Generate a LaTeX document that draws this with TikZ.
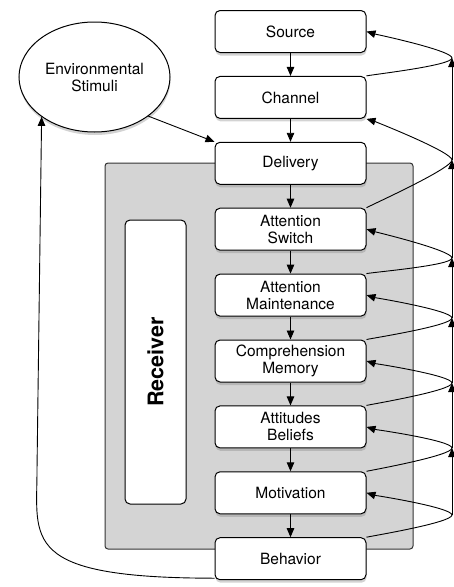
\documentclass[tikz,border=0pt]{standalone}
\usepackage{fontspec}
\setsansfont{TeX Gyre Heros}
\usepackage{tikz}
\usetikzlibrary{positioning,arrows.meta,shapes,shadows}
\definecolor{recvgray}{RGB}{212,212,212}
\tikzset{
stage/.style={draw, line width=1pt, fill=white, rounded corners=5pt, minimum width=151pt, minimum height=42pt, align=center, font=\sffamily\fontsize{15.5}{17}\selectfont, drop shadow={opacity=0.35, shadow xshift=0.5pt, shadow yshift=-3pt}},
flow/.style={-{Triangle[length=9pt,width=7.5pt]}, line width=0.9pt},
back/.style={flow, looseness=0.22}
}

\begin{document}
\begin{tikzpicture}[x=1pt, y=1pt, node distance=22.9pt]
  \useasboundingbox (0,0) rectangle (454,-587);
  \draw[line width=1pt, draw=black!80, fill=recvgray, rounded corners=3pt] (105,-163) rectangle (413,-549);
  \node[draw, line width=1pt, fill=white, rounded corners=5pt, rotate=90, minimum width=284pt, minimum height=61pt, font=\sffamily\bfseries\fontsize{21.5}{24}\selectfont] (recv) at (155.5,-362) {Receiver};

  \node[stage] (src) at (290.5,-31.5) {Source};
  \node[stage, below=of src] (chan) {Channel};
  \node[stage, below=of chan] (deliv) {Delivery};
  \node[stage, below=of deliv] (sw) {Attention\\Switch};
  \node[stage, below=of sw] (maint) {Attention\\Maintenance};
  \node[stage, below=of maint] (comp) {Comprehension\\Memory};
  \node[stage, below=of comp] (att) {Attitudes\\Beliefs};
  \node[stage, below=of att] (mot) {Motivation};
  \node[stage, below=of mot] (beh) {Behavior};

  \node[stage, ellipse, rounded corners=0pt, minimum width=151pt, minimum height=110pt] (env) at (94.5,-77) {Environmental\\Stimuli};

  \foreach \a/\b in {src/chan, chan/deliv, deliv/sw, sw/maint, maint/comp, comp/att, att/mot, mot/beh}
  \draw[flow] (\a) -- (\b);

  \foreach \n/\y in {1/58, 2/160, 3/258, 4/318, 5/383, 6/448, 7/515}
  \coordinate (t\n) at (452,-\y);

  \foreach \a/\b/\n/\o in {chan/src.east/1/12, sw/chan.south east/2/28, maint/sw.east/3/12, comp/maint.east/4/12, att/comp.east/5/12, mot/att.east/6/12, beh/mot.east/7/12}
  \draw[back] (\a.north east) to[out=\o, in=-90] (t\n) to[out=90, in=-17] (\b);

  \foreach \n in {2,...,7}{
    \pgfmathtruncatemacro\m{\n-1}
    \draw[flow] (t\n) -- (t\m);
  }

  \draw[flow] (env.-36) -- (deliv.north west);
  \draw[flow] ([yshift=2pt]beh.south west) .. controls (20,-578) and (37,-540) .. (37,-470) -- (env.217);
\end{tikzpicture}
\end{document}
